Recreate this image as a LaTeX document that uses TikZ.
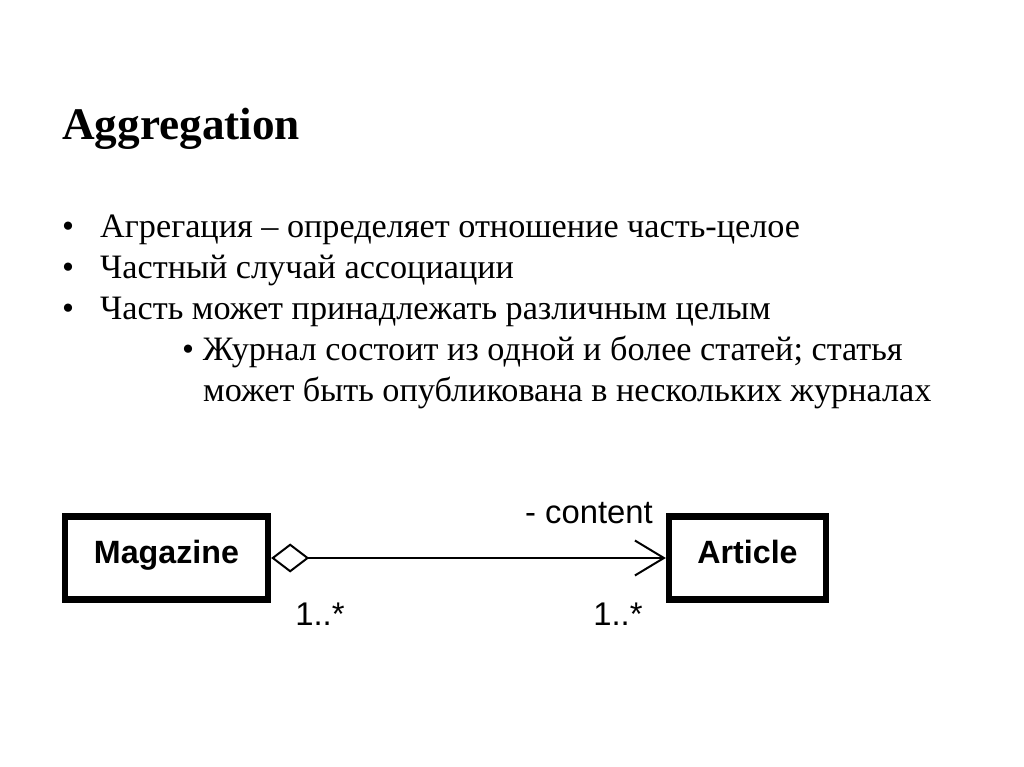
\documentclass[tikz,border=0pt]{standalone}
\usepackage{fontspec}
\setmainfont{Liberation Serif}
\setsansfont{Liberation Sans}
\usetikzlibrary{arrows.meta,positioning}

\begin{document}
\begin{tikzpicture}[x=0.03cm, y=-0.03cm,
        every node/.style={inner sep=0pt},
        title/.style={font=\fontsize{38.6}{46}\selectfont\bfseries, anchor=base west},
        item/.style={font=\fontsize{29.2}{35}\selectfont, anchor=base west},
        classbox/.style={draw, line width=5.4pt, minimum height=2.49cm,
            text height=15pt, text depth=5.6pt,
            font=\sffamily\bfseries\fontsize{27.5}{32}\selectfont},
        umltext/.style={font=\sffamily\fontsize{28}{32}\selectfont}]
      \useasboundingbox (0,0) rectangle (1024,767);
      \node[title] (head) at (62,140) {Aggregation};
      \node[item] (b1) at (62,238) {•};
      \node[item] (t1) at (100,238) {Агрегация – определяет отношение часть-целое};
      \node[item] (b2) at (62,279) {•};
      \node[item] (t2) at (100,279) {Частный случай ассоциации};
      \node[item] (b3) at (62,320) {•};
      \node[item] (t3) at (100,320) {Часть может принадлежать различным целым};
      \node[item] (t4) at (182,361) {• Журнал состоит из одной и более статей; статья};
      \node[item] (t5) at (203,402) {может быть опубликована в нескольких журналах};
      \node[classbox, minimum width=6.09cm] (MAG) at (166.5,558) {Magazine};
      \node[classbox, minimum width=4.71cm] (ART) at (747.5,558) {Article};
      \draw[line width=1.7pt,
            {Diamond[open, length=1.14cm, width=0.87cm]}-{Straight Barb[length=0.87cm, width=1.05cm]}]
            (MAG.east) -- (ART.west);
      \node[umltext, anchor=base east] (role) at (653,523) {- content};
      \node[umltext, anchor=base] (m1) at (320,625) {1..*};
      \node[umltext, anchor=base] (m2) at (618,625) {1..*};
    \end{tikzpicture}
\end{document}
